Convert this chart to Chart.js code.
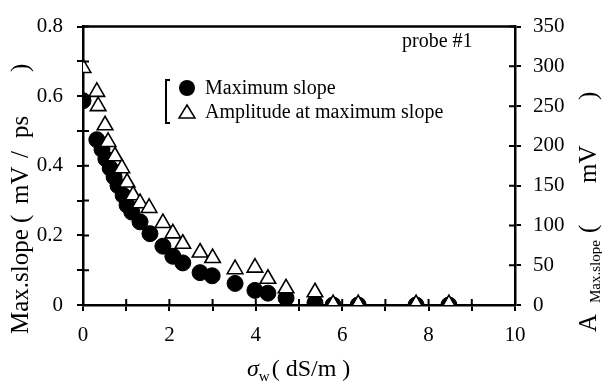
<!DOCTYPE html>
<html>
<head>
<meta charset="utf-8">
<script src="https://cdn.jsdelivr.net/npm/chart.js@4/dist/chart.umd.min.js"></script>
<style>
  html, body { margin: 0; padding: 0; background: #fff; }
  #wrap { width: 602px; height: 385px; }
</style>
</head>
<body>
<div id="wrap"><canvas id="chart"></canvas></div>
<script>
// σw (dS/m) vs max slope (mV/ps), circles
const slopeX = [0, 0.32, 0.44, 0.53, 0.63, 0.72, 0.81, 0.93, 1.02, 1.13, 1.32, 1.55, 1.85, 2.08, 2.31, 2.71, 2.99, 3.52, 3.98, 4.28, 4.70, 5.37, 5.79, 6.37, 7.71, 8.47];
const slopeY = [0.587, 0.475, 0.447, 0.42, 0.393, 0.368, 0.343, 0.315, 0.287, 0.267, 0.239, 0.205, 0.169, 0.14, 0.121, 0.093, 0.084, 0.062, 0.042, 0.034, 0.02, 0.006, 0, 0, 0, 0];

// σw (dS/m) vs amplitude at max slope (mV), triangles
const ampX = [0, 0.32, 0.35, 0.51, 0.58, 0.74, 0.90, 1.02, 1.16, 1.32, 1.53, 1.85, 2.08, 2.31, 2.71, 3.0, 3.52, 3.98, 4.28, 4.70, 5.37, 5.79, 6.37, 7.71, 8.47];
const ampY = [298, 268, 250, 226, 205, 187, 172, 154, 138, 128, 122, 103, 90, 77, 66, 59, 45, 47, 33, 21, 16, 1, 1, 1, 1];

const xLabels = ['0', '2', '4', '6', '8', '10'];
const leftLabels = ['0', '0.2', '0.4', '0.6', '0.8'];
const rightLabels = ['0', '50', '100', '150', '200', '250', '300', '350'];

const SERIF = '"Liberation Serif", "Times New Roman", serif';

// ticks go through the axis line: draw the inner half here
const innerTicks = {
    id: 'innerTicks',
    afterDraw(chart) {
        const ctx = chart.ctx;
        const a = chart.chartArea;
        ctx.save();
        ctx.strokeStyle = '#000';
        ctx.lineWidth = 2;
        ctx.beginPath();
        chart.scales.x.ticks.forEach(t => {
            const px = chart.scales.x.getPixelForValue(t.value);
            ctx.moveTo(px, a.bottom);
            ctx.lineTo(px, a.bottom - 6);
        });
        chart.scales.y.ticks.forEach(t => {
            const py = chart.scales.y.getPixelForValue(t.value);
            ctx.moveTo(a.left, py);
            ctx.lineTo(a.left + 6, py);
        });
        chart.scales.y2.ticks.forEach(t => {
            const py = chart.scales.y2.getPixelForValue(t.value);
            ctx.moveTo(a.right, py);
            ctx.lineTo(a.right - 6, py);
        });
        ctx.stroke();
        // top frame line
        ctx.lineWidth = 2.5;
        ctx.beginPath();
        ctx.moveTo(a.left, a.top);
        ctx.lineTo(a.right, a.top);
        ctx.stroke();
        ctx.restore();
    }
};

// draw rotated text pieces, offsets measured upward from baseY
function drawVertical(ctx, cx, baseY, pieces) {
    ctx.save();
    ctx.translate(cx, baseY);
    ctx.rotate(-Math.PI / 2);
    ctx.textAlign = 'left';
    ctx.textBaseline = 'middle';
    pieces.forEach(p => {
        ctx.font = p[2];
        ctx.fillText(p[0], p[1], p[3] || 0);
    });
    ctx.restore();
}

// axis titles (with subscripts), legend box and probe label
const annotations = {
    id: 'annotations',
    afterDraw(chart) {
        const ctx = chart.ctx;
        ctx.save();
        ctx.fillStyle = '#000';
        ctx.textBaseline = 'middle';

        const big = '25px ' + SERIF, small = '15px ' + SERIF;

        // left title
        drawVertical(ctx, 21, 334, [
            ['Max.slope', 0, big],
            ['(', 111, big],
            ['mV', 130, big],
            ['/', 176, big],
            ['ps', 196, big],
            [')', 262, big]
        ]);

        // right title
        drawVertical(ctx, 589, 334, [
            ['A', 2, big],
            ['Max.slope', 31, small, 7],
            ['(', 101, big],
            ['mV', 151, big],
            [')', 234, big]
        ]);

        // bottom title
        ctx.textAlign = 'left';
        ctx.font = 'italic 24px ' + SERIF;
        let bx = 247;
        ctx.fillText('σ', bx, 370); bx += ctx.measureText('σ').width;
        ctx.font = '15px ' + SERIF;
        ctx.fillText('w', bx, 377); bx += ctx.measureText('w').width + 2;
        ctx.font = '24px ' + SERIF;
        ctx.fillText('( dS/m )', bx, 370);

        // probe label
        ctx.font = '20px ' + SERIF;
        ctx.fillText('probe #1', 402, 42);

        // legend
        ctx.strokeStyle = '#000';
        ctx.lineWidth = 2;
        ctx.beginPath();
        ctx.moveTo(170, 80); ctx.lineTo(166, 80); ctx.lineTo(166, 123); ctx.lineTo(170, 123);
        ctx.stroke();
        ctx.beginPath();
        ctx.arc(187, 88, 8, 0, Math.PI * 2);
        ctx.fill();
        ctx.lineWidth = 1.5;
        ctx.beginPath();
        ctx.moveTo(187, 105); ctx.lineTo(195, 118); ctx.lineTo(179, 118); ctx.closePath();
        ctx.stroke();
        ctx.font = '20px ' + SERIF;
        ctx.fillText('Maximum slope', 205, 89);
        ctx.fillText('Amplitude at maximum slope', 205, 113);
        ctx.restore();
    }
};

const tickFont = { family: SERIF, size: 21 };

new Chart(document.getElementById('chart'), {
    type: 'scatter',
    data: {
        datasets: [
            {
                label: 'Amplitude at maximum slope',
                data: ampX.map((x, i) => ({ x: x, y: ampY[i] })),
                yAxisID: 'y2',
                pointStyle: 'triangle',
                pointRadius: 9,
                backgroundColor: '#fff',
                borderColor: '#000',
                borderWidth: 1.6,
                order: 0
            },
            {
                label: 'Maximum slope',
                data: slopeX.map((x, i) => ({ x: x, y: slopeY[i] })),
                yAxisID: 'y',
                pointStyle: 'circle',
                pointRadius: 8,
                backgroundColor: '#000',
                borderColor: '#000',
                borderWidth: 1,
                order: 1
            }
        ]
    },
    options: {
        responsive: true,
        maintainAspectRatio: false,
        animation: false,
        layout: { padding: { top: 20, left: 0, right: 0, bottom: 0 } },
        plugins: { legend: { display: false }, tooltip: { enabled: false } },
        scales: {
            x: {
                type: 'linear',
                min: 0, max: 10,
                afterFit: s => { s.height = 80; },
                border: { color: '#000', width: 2.5 },
                grid: { drawOnChartArea: false, color: '#000', lineWidth: 2, tickLength: 6 },
                ticks: {
                    stepSize: 1, color: '#000', font: tickFont, padding: 12, maxRotation: 0,
                    autoSkip: false,
                    callback: v => (v % 2 === 0 ? xLabels[v / 2] : '')
                }
            },
            y: {
                position: 'left',
                min: 0, max: 0.8,
                afterFit: s => { s.width = 83; },
                border: { color: '#000', width: 2.5 },
                grid: { drawOnChartArea: false, color: '#000', lineWidth: 2, tickLength: 6 },
                ticks: {
                    stepSize: 0.1, color: '#000', font: tickFont, padding: 14, autoSkip: false,
                    callback: v => {
                        const k = Math.round(v * 10);
                        return k % 2 === 0 ? leftLabels[k / 2] : '';
                    }
                }
            },
            y2: {
                position: 'right',
                min: 0, max: 350,
                afterFit: s => { s.width = 87; },
                border: { color: '#000', width: 2.5 },
                grid: { drawOnChartArea: false, color: '#000', lineWidth: 2, tickLength: 6 },
                ticks: {
                    stepSize: 50, color: '#000', font: tickFont, padding: 12, autoSkip: false,
                    callback: v => rightLabels[Math.round(v / 50)]
                }
            }
        }
    },
    plugins: [innerTicks, annotations]
});
</script>
</body>
</html>
